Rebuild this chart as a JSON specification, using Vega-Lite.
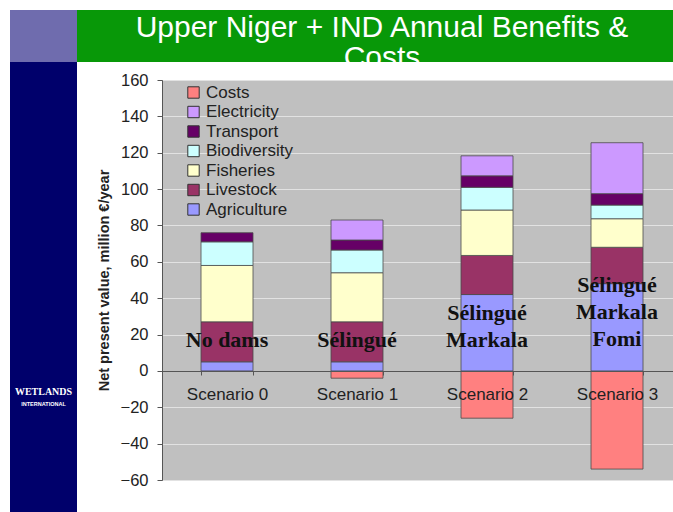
{
  "$schema": "https://vega.github.io/schema/vega-lite/v6.json",
  "padding": {"left": 10, "top": 10, "right": 0, "bottom": 0},
  "background": "white",
  "config": {"view": {"stroke": null}, "font": "Liberation Sans"},
  "datasets": {
    "blank": [{}],
    "benefits": [
      {"scenario": "Scenario 0", "component": "Agriculture", "value": 5},
      {"scenario": "Scenario 0", "component": "Livestock", "value": 22},
      {"scenario": "Scenario 0", "component": "Fisheries", "value": 31},
      {"scenario": "Scenario 0", "component": "Biodiversity", "value": 13},
      {"scenario": "Scenario 0", "component": "Transport", "value": 5},
      {"scenario": "Scenario 1", "component": "Costs", "value": -4},
      {"scenario": "Scenario 1", "component": "Agriculture", "value": 5},
      {"scenario": "Scenario 1", "component": "Livestock", "value": 22},
      {"scenario": "Scenario 1", "component": "Fisheries", "value": 27},
      {"scenario": "Scenario 1", "component": "Biodiversity", "value": 12.5},
      {"scenario": "Scenario 1", "component": "Transport", "value": 5.5},
      {"scenario": "Scenario 1", "component": "Electricity", "value": 11},
      {"scenario": "Scenario 2", "component": "Costs", "value": -26},
      {"scenario": "Scenario 2", "component": "Agriculture", "value": 42},
      {"scenario": "Scenario 2", "component": "Livestock", "value": 21.5},
      {"scenario": "Scenario 2", "component": "Fisheries", "value": 25},
      {"scenario": "Scenario 2", "component": "Biodiversity", "value": 12.5},
      {"scenario": "Scenario 2", "component": "Transport", "value": 6.3},
      {"scenario": "Scenario 2", "component": "Electricity", "value": 11},
      {"scenario": "Scenario 3", "component": "Costs", "value": -54},
      {"scenario": "Scenario 3", "component": "Agriculture", "value": 48},
      {"scenario": "Scenario 3", "component": "Livestock", "value": 20},
      {"scenario": "Scenario 3", "component": "Fisheries", "value": 15.7},
      {"scenario": "Scenario 3", "component": "Biodiversity", "value": 7.5},
      {"scenario": "Scenario 3", "component": "Transport", "value": 6.3},
      {"scenario": "Scenario 3", "component": "Electricity", "value": 28}
    ],
    "labels": [
      {"scenario": "Scenario 0", "label": "No dams"},
      {"scenario": "Scenario 1", "label": "Sélingué"},
      {"scenario": "Scenario 2", "label": "Sélingué\nMarkala"},
      {"scenario": "Scenario 3", "label": "Sélingué\nMarkala\nFomi"}
    ]
  },
  "columns": 3,
  "spacing": 0,
  "bounds": "flush",
  "concat": [
    {
      "width": 67, "height": 52,
      "view": {"fill": "#6f6cae", "stroke": null},
      "data": {"name": "blank"},
      "mark": {"type": "text"},
      "encoding": {"text": {"value": ""}}
    },
    {
      "width": 85, "height": 52,
      "view": {"fill": "#089808", "stroke": null},
      "data": {"name": "blank"},
      "mark": {"type": "text"},
      "encoding": {"text": {"value": ""}}
    },
    {
      "width": 520, "height": 52,
      "view": {"fill": "#089808", "stroke": null},
      "data": {"name": "blank"},
      "mark": {"type": "text", "color": "white", "font": "Liberation Sans", "fontSize": 30, "lineBreak": "\n", "lineHeight": 30, "baseline": "middle", "dx": -40, "dy": -8},
      "encoding": {"text": {"value": "Upper Niger + IND Annual Benefits &\nCosts"}}
    },
    {
      "width": 67, "height": 18,
      "view": {"fill": "#00006b", "stroke": null},
      "data": {"name": "blank"},
      "mark": {"type": "text"},
      "encoding": {"text": {"value": ""}}
    },
    {
      "width": 85, "height": 18,
      "data": {"name": "blank"},
      "mark": {"type": "text"},
      "encoding": {"text": {"value": ""}}
    },
    {
      "width": 520, "height": 18,
      "data": {"name": "blank"},
      "mark": {"type": "text"},
      "encoding": {"text": {"value": ""}}
    },
    {
      "width": 67, "height": 432,
      "view": {"fill": "#00006b", "stroke": null},
      "data": {"name": "blank"},
      "layer": [
        {
          "mark": {"type": "text", "color": "white", "font": "Liberation Serif", "fontSize": 10, "fontWeight": "bold", "dy": 96},
          "encoding": {"text": {"value": "WETLANDS"}}
        },
        {
          "mark": {"type": "text", "color": "white", "font": "Liberation Sans", "fontSize": 5.5, "fontWeight": "bold", "dy": 108},
          "encoding": {"text": {"value": "INTERNATIONAL"}}
        }
      ]
    },
    {
      "width": 85, "height": 1,
      "data": {"name": "blank"},
      "mark": {"type": "text"},
      "encoding": {"text": {"value": ""}}
    },
    {
      "width": 520, "height": 400,
      "view": {"fill": "#c0c0c0", "stroke": "#8a8a8a"},
      "encoding": {
        "x": {
          "field": "scenario", "type": "nominal",
          "scale": {"paddingInner": 0.6, "paddingOuter": 0.3},
          "axis": {
            "title": null, "orient": "bottom", "offset": -109, "labelAngle": 0,
            "labelFont": "Liberation Sans", "labelFontSize": 17, "labelColor": "#222222",
            "tickBand": "extent", "tickSize": 4, "tickColor": "#555555",
            "domainColor": "#555555", "domainWidth": 1.2, "labelPadding": 11, "zindex": 1
          }
        }
      },
      "layer": [
        {
          "data": {"name": "benefits"},
          "transform": [
            {"calculate": "indexof(['Agriculture','Livestock','Fisheries','Biodiversity','Transport','Electricity','Costs'], datum.component)", "as": "rank"}
          ],
          "mark": {"type": "bar", "stroke": "#4a4a4a", "strokeWidth": 0.8},
          "encoding": {
            "y": {
              "field": "value", "type": "quantitative", "stack": "zero",
              "scale": {"domain": [-60, 160], "nice": false},
              "axis": {
                "title": "Net present value, million €/year",
                "values": [-60, -40, -20, 0, 20, 40, 60, 80, 100, 120, 140, 160],
                "labelOverlap": false,
                "grid": true, "gridColor": "#e2e2e2", "gridWidth": 1.2,
                "tickSize": 5, "tickColor": "#555555", "domainColor": "#555555",
                "labelFont": "Liberation Sans", "labelFontSize": 16.5, "labelColor": "#222222", "labelPadding": 9,
                "titleFont": "Liberation Sans", "titleFontSize": 14.5, "titleFontWeight": "bold", "titleColor": "#222222", "titlePadding": 9
              }
            },
            "order": {"field": "rank", "type": "quantitative", "sort": "ascending"},
            "color": {
              "field": "component", "type": "nominal",
              "scale": {
                "domain": ["Costs", "Electricity", "Transport", "Biodiversity", "Fisheries", "Livestock", "Agriculture"],
                "range": ["#ff8080", "#cc99ff", "#660066", "#ccffff", "#ffffcc", "#993366", "#9999ff"]
              },
              "legend": {
                "orient": "none", "legendX": 175, "legendY": 74, "title": null,
                "labelFont": "Liberation Sans", "labelFontSize": 17, "labelColor": "#222222",
                "symbolType": "square", "symbolSize": 130, "symbolStrokeColor": "#333333", "symbolStrokeWidth": 1,
                "rowPadding": 1.5, "labelOffset": 4
              }
            }
          }
        },
        {
          "data": {"name": "labels"},
          "transform": [{"filter": "length(split(datum.label, '\\n')) == 1"}],
          "mark": {"type": "text", "font": "Liberation Serif", "fontWeight": "bold", "fontSize": 22, "color": "#111111", "baseline": "middle", "lineBreak": "\n", "lineHeight": 27},
          "encoding": {
            "y": {
              "datum": 17, "type": "quantitative",
              "axis": {
                "title": "Net present value, million €/year",
                "values": [-60, -40, -20, 0, 20, 40, 60, 80, 100, 120, 140, 160],
                "labelOverlap": false,
                "grid": true, "gridColor": "#e2e2e2", "gridWidth": 1.2,
                "tickSize": 5, "tickColor": "#555555", "domainColor": "#555555",
                "labelFont": "Liberation Sans", "labelFontSize": 16.5, "labelColor": "#222222", "labelPadding": 9,
                "titleFont": "Liberation Sans", "titleFontSize": 14.5, "titleFontWeight": "bold", "titleColor": "#222222", "titlePadding": 9
              }
            },
            "text": {"field": "label"}
          }
        },
        {
          "data": {"name": "labels"},
          "transform": [{"filter": "length(split(datum.label, '\\n')) == 2"}],
          "mark": {"type": "text", "font": "Liberation Serif", "fontWeight": "bold", "fontSize": 22, "color": "#111111", "baseline": "middle", "lineBreak": "\n", "lineHeight": 27},
          "encoding": {
            "y": {
              "datum": 32, "type": "quantitative",
              "axis": {
                "title": "Net present value, million €/year",
                "values": [-60, -40, -20, 0, 20, 40, 60, 80, 100, 120, 140, 160],
                "labelOverlap": false,
                "grid": true, "gridColor": "#e2e2e2", "gridWidth": 1.2,
                "tickSize": 5, "tickColor": "#555555", "domainColor": "#555555",
                "labelFont": "Liberation Sans", "labelFontSize": 16.5, "labelColor": "#222222", "labelPadding": 9,
                "titleFont": "Liberation Sans", "titleFontSize": 14.5, "titleFontWeight": "bold", "titleColor": "#222222", "titlePadding": 9
              }
            },
            "text": {"field": "label"}
          }
        },
        {
          "data": {"name": "labels"},
          "transform": [{"filter": "length(split(datum.label, '\\n')) == 3"}],
          "mark": {"type": "text", "font": "Liberation Serif", "fontWeight": "bold", "fontSize": 22, "color": "#111111", "baseline": "middle", "lineBreak": "\n", "lineHeight": 27},
          "encoding": {
            "y": {
              "datum": 47, "type": "quantitative",
              "axis": {
                "title": "Net present value, million €/year",
                "values": [-60, -40, -20, 0, 20, 40, 60, 80, 100, 120, 140, 160],
                "labelOverlap": false,
                "grid": true, "gridColor": "#e2e2e2", "gridWidth": 1.2,
                "tickSize": 5, "tickColor": "#555555", "domainColor": "#555555",
                "labelFont": "Liberation Sans", "labelFontSize": 16.5, "labelColor": "#222222", "labelPadding": 9,
                "titleFont": "Liberation Sans", "titleFontSize": 14.5, "titleFontWeight": "bold", "titleColor": "#222222", "titlePadding": 9
              }
            },
            "text": {"field": "label"}
          }
        }
      ]
    }
  ]
}
